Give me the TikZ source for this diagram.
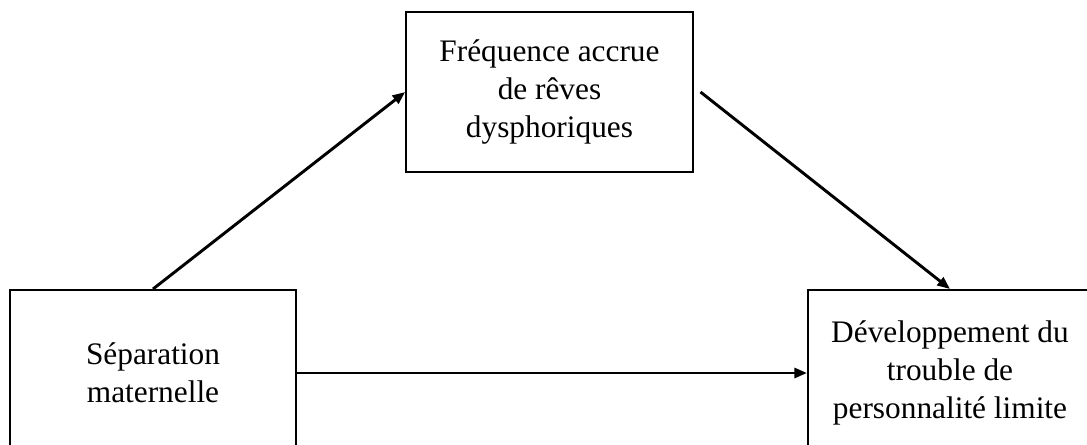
\documentclass[tikz,border=0pt]{standalone}
\usepackage{fontspec}
\setmainfont{Liberation Serif}
\usetikzlibrary{arrows.meta}

\begin{document}
\begin{tikzpicture}[x = 0.75pt, y = -0.75pt,
  box/.style = {draw, line width = 1.5pt, align = center, inner sep = 0pt,
    font = \fontsize{23.5}{28.2}\selectfont},
  arr/.style = {-{Triangle[length = 9.5pt, width = 7.5pt]}, line width = 2.2pt}]
  \useasboundingbox (0, 0) rectangle (1087, 445);
  \clip (0, 0) rectangle (1087, 445);
  \node[box, minimum width = 215pt, minimum height = 120pt] (freq) at (549.5, 92) {Fréquence accrue\\de rêves\\dysphoriques};
  \node[box, minimum width = 214.5pt, minimum height = 124.5pt] (sep) at (153, 373) {Séparation\\maternelle};
  \node[box, minimum width = 213pt, minimum height = 124.5pt] (dev) at (950, 373) {Développement du\\trouble de\\personnalité limite};
  \draw[arr] (sep.north) -- (freq.west);
  \draw[arr] ([xshift = 5pt]freq.east) -- (dev.north);
  \draw[arr] (sep.east) -- (dev.west);
\end{tikzpicture}
\end{document}
